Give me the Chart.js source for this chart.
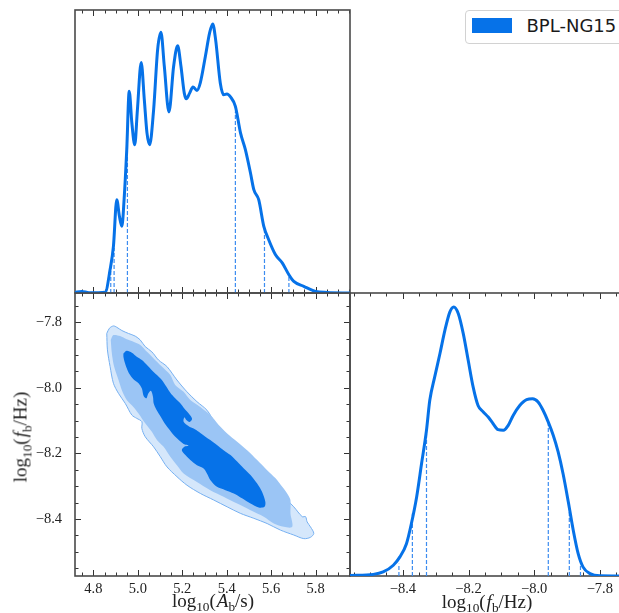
<!DOCTYPE html>
<html>
<head>
<meta charset="utf-8">
<title>BPL-NG15 corner plot</title>
<script src="https://cdn.jsdelivr.net/npm/chart.js@4.4.1/dist/chart.umd.min.js"></script>
<style>
  body { margin: 0; background: #fff; overflow: hidden; }
  #plot { position: relative; width: 619px; height: 613px; overflow: hidden; background: #fff; }
  #plot canvas { position: absolute; left: 0; top: 0; }
  .axlbl { position: absolute; font-family: "Liberation Serif", "DejaVu Serif", serif; font-size: 19px; color: #222; white-space: nowrap; transform: translate(-50%, -50%); line-height: 1; }
  .axlbl sub { font-size: 70%; vertical-align: -0.35em; line-height: 0; }
  .axlbl i { margin-left: 1px; }
  .axlbl.rot { transform: translate(-50%, -50%) rotate(-90deg); }
  #legend { position: absolute; left: 465px; top: 10px; width: 180px; height: 32px; border: 1.5px solid #d2d2d2; border-radius: 4px; background: #fff; font-family: "DejaVu Sans", sans-serif; font-size: 18px; color: #1a1a1a; }
  #legend .sw { position: absolute; left: 5.5px; top: 7px; width: 40px; height: 15px; background: #0672e8; }
  #legend .tx { position: absolute; left: 60.5px; top: 4px; }
</style>
</head>
<body>
<div id="plot">
  <canvas id="margA" width="660" height="613"></canvas>
  <canvas id="joint" width="660" height="613"></canvas>
  <canvas id="margF" width="660" height="613"></canvas>
  <div class="axlbl" style="left:213px; top:600px;">log<sub>10</sub>(<i>A</i><sub>b</sub>/s)</div>
  <div class="axlbl" style="left:487px; top:601px;">log<sub>10</sub>(<i>f</i><sub>b</sub>/Hz)</div>
  <div class="axlbl rot" style="left:20px; top:437px;">log<sub>10</sub>(<i>f</i><sub>b</sub>/Hz)</div>
  <div id="legend"><span class="sw"></span><span class="tx">BPL-NG15</span></div>
</div>
<script>
// marginal of log10(A_b/s), peak normalised to 1
const aGrid = [4.717, 4.747, 4.780, 4.853, 4.875, 4.890, 4.905, 4.917, 4.928, 4.938, 4.950, 4.961, 4.973, 4.986, 4.998, 5.015, 5.029, 5.041, 5.053, 5.071, 5.089, 5.104, 5.119, 5.140, 5.161, 5.179, 5.194, 5.209, 5.218, 5.233, 5.248, 5.266, 5.281, 5.304, 5.323, 5.337, 5.350, 5.371, 5.386, 5.401, 5.417, 5.439, 5.462, 5.484, 5.507, 5.522, 5.544, 5.567, 5.589, 5.619, 5.650, 5.680, 5.702, 5.747, 5.800, 5.853, 5.955];
const aDens = [0.002, 0.006, 0.001, 0.003, 0.087, 0.173, 0.347, 0.285, 0.248, 0.347, 0.533, 0.750, 0.632, 0.551, 0.682, 0.857, 0.719, 0.595, 0.551, 0.682, 0.905, 0.969, 0.843, 0.673, 0.843, 0.919, 0.843, 0.743, 0.722, 0.743, 0.766, 0.753, 0.781, 0.880, 0.967, 1.000, 0.942, 0.781, 0.737, 0.740, 0.729, 0.694, 0.595, 0.533, 0.446, 0.384, 0.347, 0.248, 0.198, 0.143, 0.112, 0.068, 0.043, 0.025, 0.006, 0.002, 0.000];
const aQuant = [4.878, 4.893, 4.953, 5.439, 5.570, 5.680];
const aQuantTop = [0.100, 0.167, 0.551, 0.675, 0.235, 0.068];

// marginal of log10(f_b/Hz)
const fGrid = [-8.561, -8.490, -8.460, -8.429, -8.409, -8.389, -8.374, -8.358, -8.343, -8.328, -8.318, -8.303, -8.287, -8.272, -8.257, -8.245, -8.231, -8.216, -8.201, -8.186, -8.171, -8.155, -8.140, -8.125, -8.110, -8.094, -8.079, -8.064, -8.044, -8.023, -8.005, -7.988, -7.973, -7.957, -7.942, -7.927, -7.912, -7.896, -7.881, -7.866, -7.851, -7.830, -7.800, -7.699];
const fDens = [0.002, 0.006, 0.015, 0.040, 0.071, 0.120, 0.195, 0.294, 0.418, 0.542, 0.653, 0.740, 0.827, 0.913, 0.981, 1.000, 0.975, 0.901, 0.802, 0.703, 0.634, 0.610, 0.591, 0.566, 0.544, 0.542, 0.560, 0.597, 0.634, 0.656, 0.659, 0.647, 0.616, 0.572, 0.523, 0.461, 0.380, 0.275, 0.170, 0.083, 0.033, 0.009, 0.001, 0.000];
const fQuant = [-8.412, -8.371, -8.328, -7.957, -7.893, -7.859];
const fQuantTop = [0.046, 0.232, 0.535, 0.572, 0.238, 0.046];

// 2D credible regions, outer -> inner
const outerA = [4.860, 4.872, 4.890, 4.905, 4.928, 4.958, 4.988, 5.011, 5.033, 5.063, 5.093, 5.131, 5.176, 5.221, 5.266, 5.311, 5.349, 5.386, 5.432, 5.477, 5.522, 5.567, 5.612, 5.657, 5.702, 5.740, 5.755, 5.762, 5.777, 5.792, 5.777, 5.747, 5.702, 5.642, 5.582, 5.522, 5.462, 5.402, 5.341, 5.281, 5.221, 5.176, 5.131, 5.101, 5.071, 5.033, 5.018, 5.018, 4.995, 4.973, 4.943, 4.913, 4.890, 4.875, 4.863, 4.860];
const outerF = [-7.834, -7.818, -7.811, -7.815, -7.825, -7.834, -7.842, -7.854, -7.874, -7.890, -7.915, -7.935, -7.976, -8.012, -8.042, -8.068, -8.108, -8.139, -8.175, -8.205, -8.241, -8.281, -8.302, -8.332, -8.363, -8.393, -8.393, -8.409, -8.424, -8.444, -8.456, -8.460, -8.449, -8.434, -8.414, -8.398, -8.383, -8.363, -8.342, -8.322, -8.297, -8.271, -8.241, -8.210, -8.180, -8.149, -8.124, -8.103, -8.093, -8.083, -8.047, -8.017, -7.986, -7.935, -7.884, -7.834];
const midA = [4.878, 4.890, 4.920, 4.950, 4.980, 5.011, 5.041, 5.071, 5.108, 5.146, 5.168, 5.206, 5.236, 5.281, 5.326, 5.364, 5.402, 5.447, 5.492, 5.537, 5.582, 5.620, 5.650, 5.672, 5.687, 5.687, 5.695, 5.657, 5.612, 5.567, 5.507, 5.447, 5.386, 5.326, 5.266, 5.206, 5.176, 5.146, 5.116, 5.086, 5.063, 5.033, 5.003, 4.980, 4.950, 4.928, 4.913, 4.893, 4.883, 4.878];
const midF = [-7.854, -7.839, -7.842, -7.852, -7.859, -7.869, -7.890, -7.910, -7.935, -7.961, -7.991, -8.012, -8.037, -8.058, -8.083, -8.113, -8.139, -8.164, -8.190, -8.220, -8.251, -8.276, -8.302, -8.322, -8.342, -8.383, -8.424, -8.424, -8.414, -8.393, -8.373, -8.353, -8.332, -8.312, -8.287, -8.261, -8.236, -8.210, -8.180, -8.159, -8.134, -8.108, -8.078, -8.058, -8.037, -8.007, -7.976, -7.935, -7.895, -7.854];
const coreA = [4.935, 4.950, 4.973, 4.995, 5.018, 5.041, 5.063, 5.086, 5.108, 5.128, 5.146, 5.168, 5.191, 5.209, 5.229, 5.244, 5.233, 5.218, 5.209, 5.206, 5.229, 5.251, 5.274, 5.304, 5.326, 5.356, 5.386, 5.417, 5.447, 5.477, 5.507, 5.537, 5.559, 5.574, 5.570, 5.544, 5.507, 5.469, 5.432, 5.394, 5.356, 5.326, 5.311, 5.296, 5.266, 5.236, 5.214, 5.198, 5.209, 5.229, 5.206, 5.184, 5.161, 5.138, 5.116, 5.098, 5.083, 5.071, 5.068, 5.059, 5.047, 5.038, 5.026, 5.018, 5.003, 4.980, 4.962, 4.950, 4.940, 4.935];
const coreF = [-7.895, -7.887, -7.893, -7.905, -7.915, -7.930, -7.946, -7.961, -7.976, -7.996, -8.015, -8.032, -8.047, -8.063, -8.078, -8.094, -8.104, -8.098, -8.090, -8.103, -8.117, -8.124, -8.134, -8.149, -8.159, -8.174, -8.190, -8.205, -8.225, -8.246, -8.266, -8.292, -8.317, -8.348, -8.363, -8.365, -8.353, -8.337, -8.322, -8.312, -8.302, -8.281, -8.261, -8.246, -8.236, -8.220, -8.205, -8.190, -8.180, -8.176, -8.171, -8.159, -8.144, -8.124, -8.103, -8.083, -8.066, -8.047, -8.027, -8.009, -8.017, -8.032, -8.025, -8.002, -7.986, -7.974, -7.958, -7.940, -7.920, -7.905];

// axes
const aTicks = [4.8, 5.0, 5.2, 5.4, 5.6, 5.8];
const fTicks = [-8.4, -8.2, -8.0, -7.8];
const aRange = [4.717, 5.955];
const fRange = [-8.574, -7.7105];
const fRangeMarg = [-8.561, -7.699];
const densMax = 1.052;

const blue = '#0672e8';
const dashBlue = '#3c8cf0';
const tickFont = { family: "'Liberation Serif', serif", size: 14.5 };

function pts(xs, ys) {
    return xs.map((x, i) => ({ x: x, y: ys[i] }));
}
function closed(xs, ys) {
    const p = pts(xs, ys);
    p.push(p[0]);
    return p;
}
function quantLines(xs, tops) {
    return xs.map((x, i) => ({
        data: [{ x: x, y: 0 }, { x: x, y: tops[i] }],
        showLine: true, borderColor: dashBlue, borderWidth: 1.2, borderDash: [4, 2],
        pointRadius: 0, order: 2
    }));
}
function fmt(v) {
    return (v < 0 ? '\u2212' : '') + Math.abs(v).toFixed(1);
}

// spines and inward ticks (major 0.2, minor 0.05)
const framePlugin = {
    id: 'frame',
    beforeDatasetsDraw(chart, args, opts) {
        const ctx = chart.ctx;
        const a = chart.chartArea;
        const xs = chart.scales.x, ys = chart.scales.y;
        ctx.save();
        ctx.strokeStyle = '#333';
        ctx.lineWidth = 1;
        const marks = (sc) => {
            const out = [];
            for (let k = Math.ceil(sc.min / 0.05 - 1e-9); k * 0.05 <= sc.max + 1e-9; k++) {
                out.push({ v: k * 0.05, len: k % 4 === 0 ? 6 : 3.5 });
            }
            return out;
        };
        ctx.beginPath();
        marks(xs).forEach(t => {
            const px = Math.round(xs.getPixelForValue(t.v)) + 0.5;
            if (opts.top) { ctx.moveTo(px, a.top); ctx.lineTo(px, a.top + t.len); }
            if (opts.bottom) { ctx.moveTo(px, a.bottom); ctx.lineTo(px, a.bottom - t.len); }
        });
        if (opts.left || opts.right) {
            marks(ys).forEach(t => {
                const py = Math.round(ys.getPixelForValue(t.v)) + 0.5;
                if (opts.left) { ctx.moveTo(a.left, py); ctx.lineTo(a.left + t.len, py); }
                if (opts.right) { ctx.moveTo(a.right, py); ctx.lineTo(a.right - t.len, py); }
            });
        }
        ctx.stroke();
        ctx.strokeStyle = '#4a4a4a';
        ctx.lineWidth = 1.6;
        ctx.strokeRect(a.left, a.top, a.right - a.left, a.bottom - a.top);
        ctx.restore();
    }
};

function baseOptions(padding, scales, sides) {
    return {
        responsive: false,
        animation: false,
        devicePixelRatio: 1,
        events: [],
        layout: { padding: padding },
        elements: { point: { radius: 0 } },
        plugins: { legend: { display: false }, tooltip: { enabled: false }, frame: sides },
        scales: scales
    };
}

const hiddenAxis = (min, max) => ({ type: 'linear', display: false, min: min, max: max });
const shownAxis = (min, max, ticks, pad, fit) => ({
    type: 'linear', min: min, max: max,
    grid: { display: false, drawTicks: false },
    border: { display: false },
    afterBuildTicks: s => { s.ticks = ticks.map(v => ({ value: v })); },
    afterFit: fit,
    ticks: { font: tickFont, color: '#222', padding: pad, autoSkip: false, maxRotation: 0, callback: v => fmt(v) }
});

const charts = [];

// top left: marginal of A_b
charts.push(new Chart(document.getElementById('margA'), {
    type: 'scatter',
    data: {
        datasets: [
            { data: pts(aGrid, aDens), showLine: true, borderColor: blue, borderWidth: 3, cubicInterpolationMode: 'monotone', order: 1 }
        ].concat(quantLines(aQuant, aQuantTop))
    },
    options: baseOptions({ left: 75, top: 10, right: 310, bottom: 320 }, {
        x: hiddenAxis(aRange[0], aRange[1]),
        y: hiddenAxis(0, densMax)
    }, { top: true, bottom: true }),
    plugins: [framePlugin]
}));

// bottom left: joint A_b - f_b
charts.push(new Chart(document.getElementById('joint'), {
    type: 'scatter',
    data: {
        datasets: [
            { data: closed(outerA, outerF), showLine: true, fill: 'shape', backgroundColor: '#d5e7fb', borderColor: '#76b0f1', borderWidth: 1, tension: 0.3, order: 3 },
            { data: closed(midA, midF), showLine: true, fill: 'shape', backgroundColor: '#9bc5f5', borderWidth: 0, tension: 0.3, order: 2 },
            { data: closed(coreA, coreF), showLine: true, fill: 'shape', backgroundColor: blue, borderWidth: 0, tension: 0.3, order: 1 }
        ]
    },
    options: baseOptions({ left: 0, top: 293, right: 310, bottom: 0 }, {
        x: shownAxis(aRange[0], aRange[1], aTicks, 4, s => { s.height = 37; }),
        y: shownAxis(fRange[0], fRange[1], fTicks, 13, s => { s.width = 75; })
    }, { top: true, bottom: true, left: true, right: true }),
    plugins: [framePlugin]
}));

// bottom right: marginal of f_b
charts.push(new Chart(document.getElementById('margF'), {
    type: 'scatter',
    data: {
        datasets: [
            { data: pts(fGrid, fDens), showLine: true, borderColor: blue, borderWidth: 3, cubicInterpolationMode: 'monotone', order: 1 }
        ].concat(quantLines(fQuant, fQuantTop))
    },
    options: baseOptions({ left: 350, top: 293, right: 27, bottom: 0 }, {
        x: shownAxis(fRangeMarg[0], fRangeMarg[1], fTicks, 4, s => { s.height = 37; }),
        y: hiddenAxis(0, densMax)
    }, { top: true, bottom: true }),
    plugins: [framePlugin]
}));

// redraw once the serif face is ready so the tick labels use it
if (document.fonts && document.fonts.load) {
    document.fonts.load("14px 'Liberation Serif'").then(() => charts.forEach(c => c.update('none')));
}
</script>
</body>
</html>
